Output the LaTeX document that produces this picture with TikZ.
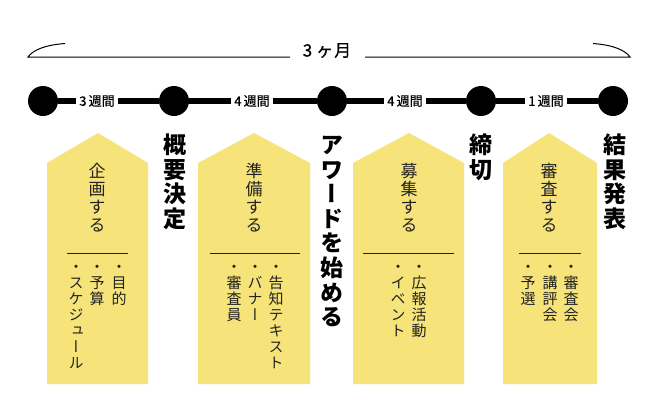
\documentclass[tikz,border=0pt]{standalone}
\usepackage{fontspec}
\newfontfamily\jp{Noto Sans CJK JP}
\newfontfamily\jpm[FakeBold=0.8]{Noto Sans CJK JP}
\newfontfamily\jpv[RawFeature=+vert]{Noto Sans CJK JP}
\definecolor{boxyellow}{HTML}{F6E37A}
\definecolor{inktext}{HTML}{222222}
\def\vtend{\vtend}
\def\vtaux#1{\ifx#1\vtend\else\hbox to 1em{\hss#1\hss\vrule height .88em depth .12em width 0pt}\expandafter\vtaux\fi}
\newcommand\vt[2]{\vbox{\baselineskip=#1\lineskiplimit=-\maxdimen\lineskip=0pt\vtaux#2\vtend}}
\tikzset{
  dot/.style={circle,fill=black,minimum size=30pt,inner sep=0pt},
  bar/.style={line width=6pt,black},
  week/.style={fill=white,inner xsep=3pt,inner ysep=1pt,font=\jpm\fontsize{13}{13}\selectfont},
  arrowbox/.style={fill=boxyellow},
  sep/.style={line width=1pt,inktext},
  boxtitle/.style={anchor=north,inner sep=0pt,text=inktext,font=\jpv\fontsize{17}{18}\selectfont},
  bullets/.style={anchor=north,inner sep=0pt,text=inktext,font=\jpv\fontsize{15}{16}\selectfont},
  milestone/.style={anchor=north,inner sep=0pt,font=\jpv\bfseries\fontsize{23}{25}\selectfont},
}
\begin{document}
\begin{tikzpicture}[x=1pt,y=-1pt]
\useasboundingbox (0,0) rectangle (660,407);
% top span
\node[font=\jpm\fontsize{17}{17}\selectfont,inner sep=0pt] (span) at (327,50.5) {3\hspace{4pt}ヶ\hspace{1pt}月};
\coordinate (la) at (28,57);
\coordinate (lb) at (290,57);
\coordinate (lc) at (65,43.5);
\coordinate (ra) at (365,57);
\coordinate (rb) at (630,57);
\coordinate (rc) at (593,43.5);
\draw[line width=1pt] (lc) .. controls (45,45) and (33,50) .. (la) -- (lb);
\draw[line width=1pt] (ra) -- (rb) .. controls (625,50) and (613,45) .. (rc);
% arrow boxes
\fill[arrowbox] (47,384) -- (47,163) -- (98,133) -- (148,163) -- (148,384) -- cycle;
\fill[arrowbox] (198,384) -- (198,163) -- (254,133) -- (310,163) -- (310,384) -- cycle;
\fill[arrowbox] (353,384) -- (353,163) -- (409,133) -- (464,163) -- (464,384) -- cycle;
\fill[arrowbox] (503,384) -- (503,163) -- (549,133) -- (597,163) -- (597,384) -- cycle;
% timeline
\node[dot] (d1) at (43,101) {};
\node[dot] (d2) at (174,101) {};
\node[dot] (d3) at (332,101) {};
\node[dot] (d4) at (481,101) {};
\node[dot] (d5) at (613,101) {};
\draw[bar] (d1) -- (d2);
\draw[bar] (d2) -- (d3);
\draw[bar] (d3) -- (d4);
\draw[bar] (d4) -- (d5);
\node[week] (w1) at (97,101) {3\,週間};
\node[week] (w2) at (252,101) {4\,週間};
\node[week] (w3) at (405,101) {4\,週間};
\node[week] (w4) at (546,101) {1\,週間};
% milestones
\node[milestone] (m2) at (175,133) {\vt{24.6pt}{概要決定}};
\node[milestone] (m3) at (332,133) {\vt{24.6pt}{アワードを始める}};
\node[milestone] (m4) at (481,133) {\vt{24.6pt}{締切}};
\node[milestone] (m5) at (615,133) {\vt{24.6pt}{結果発表}};
% box 1
\node[boxtitle] (t1) at (97,162) {\vt{18pt}{企画する}};
\coordinate (s1a) at (67,253); \coordinate (s1b) at (128,253);
\draw[sep] (s1a) -- (s1b);
\node[bullets] (b11) at (119,259) {\vt{16pt}{・目的}};
\node[bullets] (b12) at (97,259) {\vt{16pt}{・予算}};
\node[bullets] (b13) at (76,259) {\vt{16pt}{・スケジュール}};
% box 2
\node[boxtitle] (t2) at (254,162) {\vt{18pt}{準備する}};
\coordinate (s2a) at (210,253); \coordinate (s2b) at (300,253);
\draw[sep] (s2a) -- (s2b);
\node[bullets] (b21) at (276,259) {\vt{16pt}{・告知テキスト}};
\node[bullets] (b22) at (255,259) {\vt{16pt}{・バナー}};
\node[bullets] (b23) at (234,259) {\vt{16pt}{・審査員}};
% box 3
\node[boxtitle] (t3) at (409,162) {\vt{18pt}{募集する}};
\coordinate (s3a) at (363,253); \coordinate (s3b) at (454,253);
\draw[sep] (s3a) -- (s3b);
\node[bullets] (b31) at (419,259) {\vt{16pt}{・広報活動}};
\node[bullets] (b32) at (398,259) {\vt{16pt}{・イベント}};
% box 4
\node[boxtitle] (t4) at (549,162) {\vt{18pt}{審査する}};
\coordinate (s4a) at (519,253); \coordinate (s4b) at (581,253);
\draw[sep] (s4a) -- (s4b);
\node[bullets] (b41) at (571,259) {\vt{16pt}{・審査会}};
\node[bullets] (b42) at (550,259) {\vt{16pt}{・講評会}};
\node[bullets] (b43) at (528,259) {\vt{16pt}{・予選}};
\end{tikzpicture}
\end{document}
